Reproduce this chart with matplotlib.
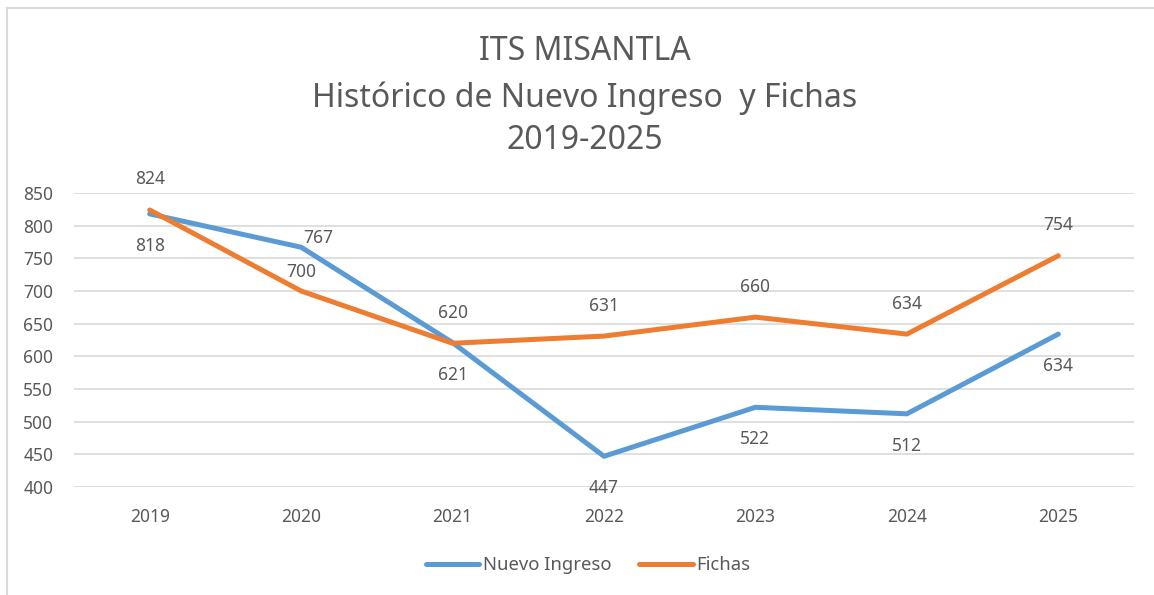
import matplotlib
matplotlib.use("Agg")
import matplotlib.pyplot as plt
from matplotlib.lines import Line2D

plt.rcParams["font.family"] = ["Noto Sans", "DejaVu Sans"]

years = ["2019", "2020", "2021", "2022", "2023", "2024", "2025"]
nuevo_ingreso = [818, 767, 621, 447, 522, 512, 634]
fichas = [824, 700, 620, 631, 660, 634, 754]

# label offsets in points (dx, dy), as the original places them
nuevo_off = [(0, -23), (12, 7), (0, -23), (0, -23), (0, -23), (0, -23), (0, -23)]
fichas_off = [(0, 22), (0, 14), (0, 22), (0, 22), (0, 22), (0, 22), (0, 22)]

BLUE = "#5B9BD5"
ORANGE = "#ED7D31"
TEXT = "#595959"
GRID = "#D9D9D9"

W, H = 1154, 595
fig = plt.figure(figsize=(W / 100, H / 100), dpi=100)
ax = fig.add_axes([74 / W, 1 - 487 / H, (1134 - 74) / W, (487 - 193) / H])

x = list(range(len(years)))
ax.plot(x, nuevo_ingreso, color=BLUE, linewidth=3.6, solid_capstyle="round",
        solid_joinstyle="round", label="Nuevo Ingreso")
ax.plot(x, fichas, color=ORANGE, linewidth=3.6, solid_capstyle="round",
        solid_joinstyle="round", label="Fichas")

for xi, v, off in zip(x, nuevo_ingreso, nuevo_off):
    ax.annotate(str(v), (xi, v), xytext=off, textcoords="offset points",
                ha="center", va="center", fontsize=12.5, color=TEXT)
for xi, v, off in zip(x, fichas, fichas_off):
    ax.annotate(str(v), (xi, v), xytext=off, textcoords="offset points",
                ha="center", va="center", fontsize=12.5, color=TEXT)

ax.set_xlim(-0.5, len(years) - 0.5)
ax.set_ylim(400, 850)
ax.set_yticks(range(400, 851, 50))
ax.set_xticks(x)
ax.set_xticklabels(years)
ax.tick_params(axis="both", length=0, labelsize=12.5, labelcolor=TEXT)
ax.tick_params(axis="y", pad=15)
ax.tick_params(axis="x", pad=15)
ax.grid(axis="y", color=GRID, linewidth=1.2)
ax.set_axisbelow(True)
for spine in ax.spines.values():
    spine.set_visible(False)

# title, three lines
title_x = 585 / W
fig.text(title_x, 1 - 52 / H, "ITS MISANTLA", ha="center", va="center",
         fontsize=23, color=TEXT)
fig.text(title_x, 1 - 98 / H, "Histórico de Nuevo Ingreso  y Fichas", ha="center",
         va="center", fontsize=23, color=TEXT)
fig.text(title_x, 1 - 140 / H, "2019-2025", ha="center", va="center",
         fontsize=23, color=TEXT)

fig.legend(loc="center", bbox_to_anchor=(588 / W, 1 - 565 / H), ncol=2,
           frameon=False, fontsize=13.3, labelcolor=TEXT, handlelength=2.9,
           handletextpad=0.2, columnspacing=1.5)

# chart border (only top and left visible in the crop)
fig.add_artist(Line2D([7 / W, 7 / W], [0, 1 - 8 / H], transform=fig.transFigure,
                      color=GRID, linewidth=1.5))
fig.add_artist(Line2D([7 / W, 1], [1 - 8 / H, 1 - 8 / H], transform=fig.transFigure,
                      color=GRID, linewidth=1.5))

fig.savefig("out.png", dpi=100, facecolor="white")
